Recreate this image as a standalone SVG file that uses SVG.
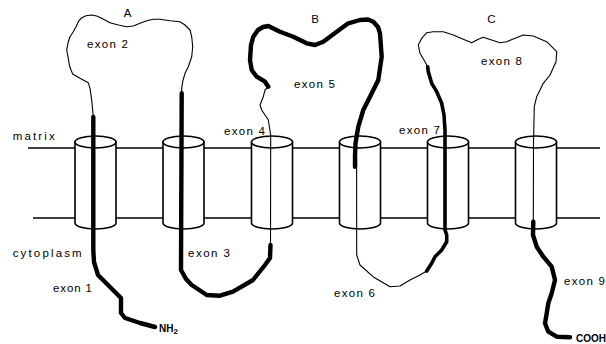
<svg xmlns="http://www.w3.org/2000/svg" width="606" height="344" viewBox="0 0 606 344">
<style>
.mem{stroke:#000;stroke-width:1.6;fill:none}
.cyl{stroke:#000;stroke-width:1.6;fill:#fff}
.thin{stroke:#000;stroke-width:1.1;fill:none;stroke-linejoin:round;stroke-linecap:round}
.thick{stroke:#000;stroke-width:4.4;fill:none;stroke-linejoin:round;stroke-linecap:round}
.med{stroke:#000;stroke-width:3.6;fill:none;stroke-linejoin:round;stroke-linecap:round}
text{font-family:"Liberation Sans",Arial,sans-serif;font-size:11.5px;fill:#000}
.b{font-weight:bold;font-size:10px}
</style>
<defs>
<g id="cylshape">
<path class="cyl" d="M-20.5,142 L-20.5,223 A20.5,6 0 0 0 20.5,223 L20.5,142 Z"/>
<ellipse class="cyl" cx="0" cy="142" rx="20.5" ry="6"/>
</g>
</defs>
<g id="membrane">
<line class="mem" x1="28" y1="148" x2="600" y2="148"/>
<line class="mem" x1="33" y1="218" x2="600" y2="218"/>
</g>
<g id="helix1"><use href="#cylshape" transform="translate(95.5,0)"/></g>
<g id="helix2"><use href="#cylshape" transform="translate(183.5,0)"/></g>
<g id="helix3"><use href="#cylshape" transform="translate(272,0)"/></g>
<g id="helix4"><use href="#cylshape" transform="translate(360,0)"/></g>
<g id="helix5"><use href="#cylshape" transform="translate(448,0)"/></g>
<g id="helix6"><use href="#cylshape" transform="translate(536,0)"/></g>
<g id="connectors">
<polyline class="thick" points="155,327 140,323 125,318 121,313 121,298 118,295 110,287 98,275 94,262 93.3,250 93.3,117"/>
<polyline class="thin" points="93.3,117 91.7,100 90,88.3 88.3,82.7 80,78.3 72.7,74 71,70 69.3,65 68.3,58.3 66.7,50 68.3,41.7 70,36.7 73.3,31.7 76,26.7 78.3,21.7 81,18.3 86,15.7 91.7,15 96.7,16 101.7,18.3 110,22.7 118.3,25 126.7,26.7 133.3,26 140,23.3 146.7,20.7 153.3,19.3 160,19.3 170,20.7 180,21.7 185,25 190,30 191.7,36.7 192.7,46.7 191.7,56.7 188.3,66.7 185,73.3 182.7,81.7 181.7,88.3 181.7,93.3"/>
<polyline class="thick" points="181.7,93.3 181,270 186,279 191.7,285 206.7,295 220,295.7 233,291.7 253,280 265,265 270,258 270.5,245"/>
<polyline class="thin" points="270.5,245 270.7,135 268.3,120 261.7,110 260,105 263.3,96.7 265,90 268.3,86.7"/>
<polyline class="thick" points="268.3,86.7 265,81.7 256.7,76.7 251.7,70 250,60 251,45 253.3,36.7 258,30 263,27 268.3,26 280,31.7 293.3,36.7 306.7,43.3 315,45 323.3,41.7 336.7,31.7 348.3,23.3 360,20 368,19.5 373.3,21.7 378,27 380,33.3 381.7,56.7 378.3,80 370,96.7 363.3,110 358.3,126.7 355.5,143.3 355,156.7 355,166.7"/>
<polyline class="thin" points="356.6,158 356.7,255 360,265 373,276.7 390,286.7 400,286 410,280 420,275 426.7,271"/>
<polyline class="med" points="426.7,271 431.7,263.3 435,256.7 441.7,250 446.7,241.7 446.7,235 445,230 445,130 444,115 441.7,103.3 436.7,91.7 431.7,83.3 428.3,71.7 427.7,66.7"/>
<polyline class="thin" points="427.7,66.7 425,61.7 420,53.3 418.3,45 421.7,38.3 426.7,32.7 433.3,31.7 443.3,31.7 453.3,35 463.3,39.3 471.7,42.7 478.3,39.3 483.3,37.3 491.7,40 500,42.7 506.7,41.7 515,38.3 523.3,35 533.3,36 546.7,41.7 556.7,51.7 556,61.7 550,75 543.3,83.3 536.7,96.7 534.3,106.7 533.5,143 533.3,222"/>
<polyline class="thick" points="533.3,221.7 533,235 536.7,246.7 543.3,256.7 551.7,266.7 555,280 551.7,293.3 548.3,303.3 546.7,313.3 545,323.3 548.3,331.7 556.7,336.7 570,337.3"/>
</g>
<g id="labels">
<text x="12.7" y="139.5" textLength="42" lengthAdjust="spacing">matrix</text>
<text x="12.7" y="256.5" textLength="69" lengthAdjust="spacing">cytoplasm</text>
<text x="127.5" y="17" text-anchor="middle">A</text>
<text x="315" y="23" text-anchor="middle">B</text>
<text x="491.5" y="23" text-anchor="middle">C</text>
<text x="87" y="48" textLength="41" lengthAdjust="spacing">exon 2</text>
<text x="294" y="88" textLength="41" lengthAdjust="spacing">exon 5</text>
<text x="224" y="135" textLength="41" lengthAdjust="spacing">exon 4</text>
<text x="481" y="65" textLength="41" lengthAdjust="spacing">exon 8</text>
<text x="399" y="134" textLength="41" lengthAdjust="spacing">exon 7</text>
<text x="53" y="292" textLength="39" lengthAdjust="spacing">exon 1</text>
<text x="188" y="257" textLength="42" lengthAdjust="spacing">exon 3</text>
<text x="334" y="297" textLength="41" lengthAdjust="spacing">exon 6</text>
<text x="564" y="285" textLength="41" lengthAdjust="spacing">exon 9</text>
<text class="b" x="159" y="332">NH<tspan font-size="8" dy="2">2</tspan></text>
<text class="b" x="576" y="342" textLength="30" lengthAdjust="spacingAndGlyphs">COOH</text>
</g>
</svg>
